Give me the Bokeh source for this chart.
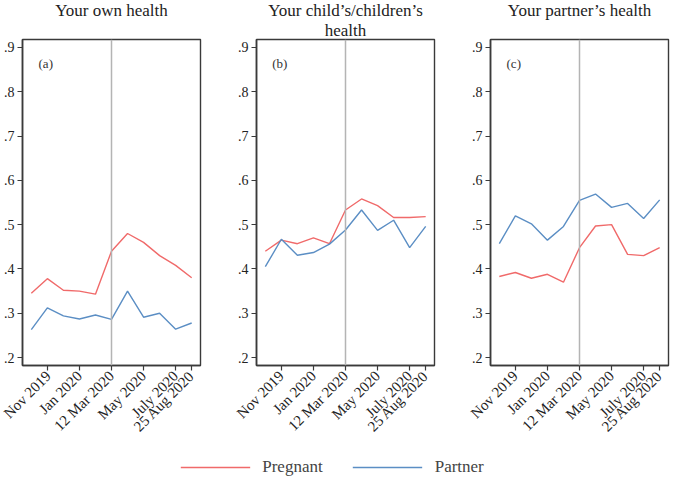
from bokeh.plotting import figure
from bokeh.layouts import row, column
from bokeh.models import FixedTicker, Span, Label, Legend, LegendItem, Range1d, Title
from bokeh.embed import file_html
from bokeh.resources import INLINE

periods = list(range(11))
tick_pos = [1, 3, 5, 7, 9, 10]
tick_labels = ["Nov 2019", "Jan 2020", "12 Mar 2020", "May 2020", "July 2020", "25 Aug 2020"]
y_ticks = [0.2, 0.3, 0.4, 0.5, 0.6, 0.7, 0.8, 0.9]
y_labels = [".2", ".3", ".4", ".5", ".6", ".7", ".8", ".9"]
lockdown = 5

titles = [["Your own health", "\u00a0"], ["Your child\u2019s/children\u2019s", "health"], ["Your partner\u2019s health", "\u00a0"]]
panel_tags = ["(a)", "(b)", "(c)"]

a_preg = [0.345, 0.378, 0.352, 0.350, 0.343, 0.440, 0.480, 0.460, 0.430, 0.408, 0.380]
a_part = [0.263, 0.312, 0.294, 0.287, 0.296, 0.286, 0.350, 0.291, 0.300, 0.264, 0.278]
b_preg = [0.440, 0.465, 0.457, 0.470, 0.457, 0.533, 0.558, 0.543, 0.516, 0.516, 0.518]
b_part = [0.405, 0.467, 0.431, 0.437, 0.456, 0.488, 0.533, 0.487, 0.510, 0.448, 0.496]
c_preg = [0.383, 0.392, 0.379, 0.388, 0.370, 0.448, 0.497, 0.500, 0.433, 0.430, 0.448]
c_part = [0.457, 0.520, 0.502, 0.465, 0.496, 0.555, 0.569, 0.539, 0.548, 0.514, 0.556]

series = [(a_preg, a_part), (b_preg, b_part), (c_preg, c_part)]

RED = "#f06a6a"
BLUE = "#5b8ec4"
FONT = "Liberation Serif"
AX = "#3a3a3a"

borders = [(20, 28), (28, 28), (28, 2)]
figs = []
for i in range(3):
    bl, br = borders[i]
    p = figure(frame_width=178, frame_height=326, output_backend="svg", toolbar_location=None,
               x_range=Range1d(-0.55, 10.55), y_range=Range1d(0.182, 0.918),
               min_border_left=bl, min_border_right=br, min_border_top=20, min_border_bottom=10)
    p.title.visible = False
    line1, line2 = titles[i]
    for txt, sd in ((line2, 0), (line1, -3)):
        t = Title(text=txt, align="center", text_font=FONT, text_font_size="17px",
                  text_font_style="normal", text_color="#222222", standoff=sd, offset=0)
        p.add_layout(t, "above")
    p.outline_line_color = AX
    p.outline_line_width = 1.4
    p.xgrid.visible = False
    p.ygrid.visible = False
    p.background_fill_color = "white"
    p.border_fill_color = "white"
    for ax in (p.xaxis[0], p.yaxis[0]):
        ax.axis_line_color = AX
        ax.axis_line_width = 1.6
        ax.major_tick_line_color = AX
        ax.major_tick_line_width = 1.2
        ax.major_tick_out = 5
        ax.major_tick_in = 0
        ax.minor_tick_line_color = None
        ax.major_label_text_font = FONT
        ax.major_label_text_color = "#222222"
        ax.major_label_standoff = 3
    p.xaxis.major_label_text_font_size = "15px"
    p.yaxis.major_label_text_font_size = "14px"
    p.xaxis.ticker = FixedTicker(ticks=tick_pos)
    p.xaxis.major_label_overrides = {t: l for t, l in zip(tick_pos, tick_labels)}
    p.xaxis.major_label_orientation = 0.785398
    p.yaxis.ticker = FixedTicker(ticks=y_ticks)
    p.yaxis.major_label_overrides = {t: l for t, l in zip(y_ticks, y_labels)}

    p.add_layout(Span(location=lockdown, dimension="height", line_color="#b4b4b4", line_width=1.5))
    preg, part = series[i]
    p.line(periods, preg, line_color=RED, line_width=1.4)
    p.line(periods, part, line_color=BLUE, line_width=1.4)

    p.add_layout(Label(x=0.9, y=0.864, text=panel_tags[i], text_font=FONT, text_font_size="13px",
                       text_align="center", text_baseline="middle", text_color="#333333"))
    figs.append(p)

leg = figure(width=664, height=34, output_backend="svg", toolbar_location=None,
             x_range=Range1d(0, 1), y_range=Range1d(0, 1), min_border=0)
leg.axis.visible = False
leg.xgrid.visible = False
leg.ygrid.visible = False
leg.outline_line_color = None
r1 = leg.line([5, 6], [5, 6], line_color=RED, line_width=1.4)
r2 = leg.line([5, 6], [5, 6], line_color=BLUE, line_width=1.4)
legend = Legend(items=[LegendItem(label="Pregnant", renderers=[r1]), LegendItem(label="Partner", renderers=[r2])],
                orientation="horizontal", location="bottom_center", glyph_width=70, label_standoff=12, spacing=30,
                label_text_font=FONT, label_text_font_size="17px", border_line_color=None,
                background_fill_alpha=0, padding=0, margin=0)
leg.add_layout(legend)

layout = column(row(*figs, spacing=0), leg, spacing=0)
open("out.html", "w").write(file_html(layout, INLINE))
